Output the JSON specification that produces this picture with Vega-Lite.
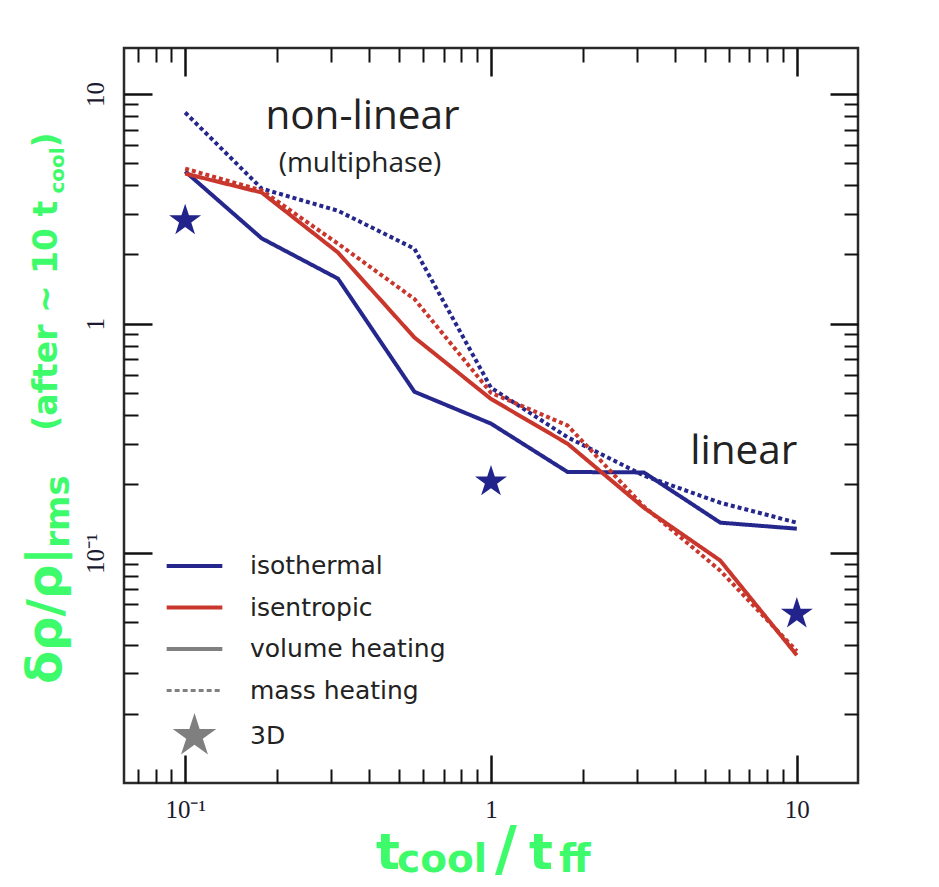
{
  "$schema": "https://vega.github.io/schema/vega-lite/v6.json",
  "width": 734,
  "height": 735,
  "autosize": {"type": "none"},
  "padding": {"left": 124, "top": 48, "right": 81, "bottom": 104},
  "background": "white",
  "data": {"values": [{"note": "title anchor"}]},
  "config": {
    "view": {"stroke": "#2a2a2a", "strokeWidth": 2.5},
    "axis": {"grid": false, "domain": false, "tickColor": "#111"}
  },
  "resolve": {"axis": {"x": "independent", "y": "independent"}},
  "layer": [
    {
      "data": {"values": [
        {"x": 0.1, "y": 4.6, "model": "isothermal", "heating": "volume"},
        {"x": 0.178, "y": 2.35, "model": "isothermal", "heating": "volume"},
        {"x": 0.316, "y": 1.57, "model": "isothermal", "heating": "volume"},
        {"x": 0.562, "y": 0.505, "model": "isothermal", "heating": "volume"},
        {"x": 1.0, "y": 0.367, "model": "isothermal", "heating": "volume"},
        {"x": 1.78, "y": 0.226, "model": "isothermal", "heating": "volume"},
        {"x": 3.16, "y": 0.225, "model": "isothermal", "heating": "volume"},
        {"x": 5.62, "y": 0.136, "model": "isothermal", "heating": "volume"},
        {"x": 10, "y": 0.128, "model": "isothermal", "heating": "volume"},
        {"x": 0.1, "y": 8.3, "model": "isothermal", "heating": "mass"},
        {"x": 0.178, "y": 3.87, "model": "isothermal", "heating": "mass"},
        {"x": 0.316, "y": 3.1, "model": "isothermal", "heating": "mass"},
        {"x": 0.562, "y": 2.12, "model": "isothermal", "heating": "mass"},
        {"x": 1.0, "y": 0.526, "model": "isothermal", "heating": "mass"},
        {"x": 1.78, "y": 0.32, "model": "isothermal", "heating": "mass"},
        {"x": 3.16, "y": 0.218, "model": "isothermal", "heating": "mass"},
        {"x": 5.62, "y": 0.166, "model": "isothermal", "heating": "mass"},
        {"x": 10, "y": 0.136, "model": "isothermal", "heating": "mass"},
        {"x": 0.1, "y": 4.5, "model": "isentropic", "heating": "volume"},
        {"x": 0.178, "y": 3.72, "model": "isentropic", "heating": "volume"},
        {"x": 0.316, "y": 2.04, "model": "isentropic", "heating": "volume"},
        {"x": 0.562, "y": 0.87, "model": "isentropic", "heating": "volume"},
        {"x": 1.0, "y": 0.47, "model": "isentropic", "heating": "volume"},
        {"x": 1.78, "y": 0.3, "model": "isentropic", "heating": "volume"},
        {"x": 3.16, "y": 0.158, "model": "isentropic", "heating": "volume"},
        {"x": 5.62, "y": 0.093, "model": "isentropic", "heating": "volume"},
        {"x": 10, "y": 0.036, "model": "isentropic", "heating": "volume"},
        {"x": 0.1, "y": 4.73, "model": "isentropic", "heating": "mass"},
        {"x": 0.178, "y": 3.8, "model": "isentropic", "heating": "mass"},
        {"x": 0.316, "y": 2.23, "model": "isentropic", "heating": "mass"},
        {"x": 0.562, "y": 1.28, "model": "isentropic", "heating": "mass"},
        {"x": 1.0, "y": 0.5, "model": "isentropic", "heating": "mass"},
        {"x": 1.78, "y": 0.36, "model": "isentropic", "heating": "mass"},
        {"x": 3.16, "y": 0.16, "model": "isentropic", "heating": "mass"},
        {"x": 5.62, "y": 0.084, "model": "isentropic", "heating": "mass"},
        {"x": 10, "y": 0.0375, "model": "isentropic", "heating": "mass"}
      ]},
      "mark": {"type": "line", "strokeWidth": 4},
      "encoding": {
        "x": {"field": "x", "type": "quantitative", "title": null,
          "scale": {"type": "log", "domain": [0.0631, 15.85], "nice": false},
          "axis": {"orient": "bottom", "values": [0.1, 1, 10], "tickSize": -28, "tickWidth": 2.5,
            "labelPadding": 42, "labelBaseline": "top", "labelAlign": "center",
            "labelExpr": "datum.value < 0.5 ? '10⁻¹' : datum.value < 5 ? '1' : '10'",
            "labelFont": "Liberation Serif", "labelFontSize": 25, "labelColor": "#1a1a30",
            "labelFlush": false, "labelOverlap": false}},
        "y": {"field": "y", "type": "quantitative", "title": null,
          "scale": {"type": "log", "domain": [0.01, 15.85], "nice": false},
          "axis": {"orient": "left", "values": [0.1, 1, 10], "tickSize": -28, "tickWidth": 2.5,
            "labelPadding": 49, "labelAngle": 270, "labelAlign": "center", "labelBaseline": "alphabetic",
            "labelExpr": "datum.value < 0.5 ? '10⁻¹' : datum.value < 5 ? '1' : '10'",
            "labelFont": "Liberation Serif", "labelFontSize": 25, "labelColor": "#1a1a30",
            "labelFlush": false, "labelOverlap": false}},
        "color": {"field": "model", "type": "nominal",
          "scale": {"domain": ["isothermal", "isentropic", "volume heating", "mass heating", "3D"],
                    "range": ["#25278c", "#c9372c", "#808080", "#808080", "#808080"]},
          "legend": {"title": null, "orient": "none", "legendX": 58, "legendY": 505.5,
            "symbolType": "stroke", "symbolSize": 1700, "symbolStrokeWidth": 4,
            "labelFont": "DejaVu Sans", "labelFontSize": 25, "labelColor": "#222",
            "labelOffset": 43, "labelLimit": 400, "rowPadding": 2.5, "padding": 0,
            "encode": {"symbols": {"update": {
              "shape": {"signal": "datum.value === '3D' ? 'M0,-1L0.225,-0.309L0.951,-0.309L0.363,0.118L0.588,0.809L0,0.382L-0.588,0.809L-0.363,0.118L-0.951,-0.309L-0.225,-0.309Z' : (datum.value === 'mass heating' ? 'M-1,0L1,0M0,-0.6376L0,-0.6376M0,0.6376L0,0.6376' : 'M-1,0L1,0M0,-0.6016L0,-0.6016M0,0.6016L0,0.6016')"},
              "size": {"signal": "datum.value === '3D' ? 2100 : 3100"},
              "fill": {"signal": "datum.value === '3D' ? '#7f7f7f' : 'transparent'"},
              "strokeCap": {"value": "butt"},
              "strokeJoin": {"value": "round"},
              "strokeWidth": {"signal": "datum.value === '3D' ? 0 : (datum.value === 'mass heating' ? 3 : 4)"},
              "strokeDash": {"signal": "datum.value === 'mass heating' ? [5, 3] : [1, 0]"}
            }}}}},
        "strokeDash": {"field": "heating", "type": "nominal",
          "scale": {"domain": ["volume", "mass"], "range": [[1, 0], [4, 3]]}, "legend": null}
      }
    },
    {
      "data": {"values": [
        {"x": 0.1, "y": 2.81},
        {"x": 1, "y": 0.205},
        {"x": 10, "y": 0.0545}
      ]},
      "mark": {"type": "point", "shape": "M0,-1L0.225,-0.309L0.951,-0.309L0.363,0.118L0.588,0.809L0,0.382L-0.588,0.809L-0.363,0.118L-0.951,-0.309L-0.225,-0.309Z",
        "size": 1130, "filled": true, "color": "#22248c", "opacity": 1, "strokeWidth": 0},
      "encoding": {
        "x": {"field": "x", "type": "quantitative", "title": null,
          "scale": {"type": "log", "domain": [0.0631, 15.85], "nice": false},
          "axis": {"orient": "top", "values": [0.1, 1, 10], "tickSize": -28, "tickWidth": 2.5, "labels": false}},
        "y": {"field": "y", "type": "quantitative", "title": null,
          "scale": {"type": "log", "domain": [0.01, 15.85], "nice": false},
          "axis": {"orient": "right", "values": [0.1, 1, 10], "tickSize": -28, "tickWidth": 2.5, "labels": false}}
      }
    },
    {
      "data": {"values": [
        {"label": "non-linear", "x": 0.38, "y": 7.07},
        {"label": "linear", "x": 6.71, "y": 0.2455}
      ]},
      "mark": {"type": "text", "font": "Open Sans", "fontSize": 40.5, "color": "#222", "align": "center", "baseline": "alphabetic"},
      "encoding": {
        "text": {"field": "label"},
        "x": {"field": "x", "type": "quantitative", "title": null,
          "scale": {"type": "log", "domain": [0.0631, 15.85], "nice": false},
          "axis": {"orient": "bottom", "values": [0.07, 0.08, 0.09, 0.2, 0.3, 0.4, 0.5, 0.6, 0.7, 0.8, 0.9, 2, 3, 4, 5, 6, 7, 8, 9], "tickSize": -14, "tickWidth": 2, "labels": false}},
        "y": {"field": "y", "type": "quantitative", "title": null,
          "scale": {"type": "log", "domain": [0.01, 15.85], "nice": false},
          "axis": {"orient": "left", "values": [0.02, 0.03, 0.04, 0.05, 0.06, 0.07, 0.08, 0.09, 0.2, 0.3, 0.4, 0.5, 0.6, 0.7, 0.8, 0.9, 2, 3, 4, 5, 6, 7, 8, 9], "tickSize": -14, "tickWidth": 2, "labels": false}}
      }
    },
    {
      "data": {"values": [
        {"label": "(multiphase)", "x": 0.373, "y": 4.55}
      ]},
      "mark": {"type": "text", "font": "Open Sans", "fontSize": 28, "color": "#222", "align": "center", "baseline": "alphabetic"},
      "encoding": {
        "text": {"field": "label"},
        "x": {"field": "x", "type": "quantitative", "title": null,
          "scale": {"type": "log", "domain": [0.0631, 15.85], "nice": false},
          "axis": {"orient": "top", "values": [0.07, 0.08, 0.09, 0.2, 0.3, 0.4, 0.5, 0.6, 0.7, 0.8, 0.9, 2, 3, 4, 5, 6, 7, 8, 9], "tickSize": -14, "tickWidth": 2, "labels": false}},
        "y": {"field": "y", "type": "quantitative", "title": null,
          "scale": {"type": "log", "domain": [0.01, 15.85], "nice": false},
          "axis": {"orient": "right", "values": [0.02, 0.03, 0.04, 0.05, 0.06, 0.07, 0.08, 0.09, 0.2, 0.3, 0.4, 0.5, 0.6, 0.7, 0.8, 0.9, 2, 3, 4, 5, 6, 7, 8, 9], "tickSize": -14, "tickWidth": 2, "labels": false}}
      }
    },
    {
      "mark": {"type": "text", "text": "t", "font": "DejaVu Sans", "fontWeight": "bold", "fontSize": 50, "color": "#3dfb6b", "align": "left", "baseline": "alphabetic"},
      "encoding": {
        "x": {"datum": 0.4208, "type": "quantitative", "axis": null, "scale": {"type": "log", "domain": [0.0631, 15.85], "nice": false}},
        "y": {"datum": 0.00422, "type": "quantitative", "axis": null, "scale": {"type": "log", "domain": [0.01, 15.85], "nice": false}}
      }
    },
    {
      "mark": {"type": "text", "text": "cool", "font": "DejaVu Sans", "fontWeight": "bold", "fontSize": 39, "color": "#3dfb6b", "align": "left", "baseline": "alphabetic"},
      "encoding": {
        "x": {"datum": 0.493, "type": "quantitative", "axis": null, "scale": {"type": "log", "domain": [0.0631, 15.85], "nice": false}},
        "y": {"datum": 0.004094, "type": "quantitative", "axis": null, "scale": {"type": "log", "domain": [0.01, 15.85], "nice": false}}
      }
    },
    {
      "mark": {"type": "text", "text": "/", "font": "DejaVu Sans", "fontWeight": "bold", "fontSize": 60, "color": "#3dfb6b", "align": "center", "baseline": "alphabetic"},
      "encoding": {
        "x": {"datum": 1.12, "type": "quantitative", "axis": null, "scale": {"type": "log", "domain": [0.0631, 15.85], "nice": false}},
        "y": {"datum": 0.00422, "type": "quantitative", "axis": null, "scale": {"type": "log", "domain": [0.01, 15.85], "nice": false}}
      }
    },
    {
      "mark": {"type": "text", "text": "t", "font": "DejaVu Sans", "fontWeight": "bold", "fontSize": 50, "color": "#3dfb6b", "align": "left", "baseline": "alphabetic"},
      "encoding": {
        "x": {"datum": 1.331, "type": "quantitative", "axis": null, "scale": {"type": "log", "domain": [0.0631, 15.85], "nice": false}},
        "y": {"datum": 0.00422, "type": "quantitative", "axis": null, "scale": {"type": "log", "domain": [0.01, 15.85], "nice": false}}
      }
    },
    {
      "mark": {"type": "text", "text": "ff", "font": "DejaVu Sans", "fontWeight": "bold", "fontSize": 39, "color": "#3dfb6b", "align": "left", "baseline": "alphabetic"},
      "encoding": {
        "x": {"datum": 1.668, "type": "quantitative", "axis": null, "scale": {"type": "log", "domain": [0.0631, 15.85], "nice": false}},
        "y": {"datum": 0.004094, "type": "quantitative", "axis": null, "scale": {"type": "log", "domain": [0.01, 15.85], "nice": false}}
      }
    },
    {
      "mark": {"type": "text", "text": "δρ/ρ|", "font": "DejaVu Sans", "fontWeight": "bold", "fontSize": 48, "color": "#3dfb6b", "align": "left", "baseline": "alphabetic", "angle": 270},
      "encoding": {
        "x": {"datum": 0.03934, "type": "quantitative", "axis": null, "scale": {"type": "log", "domain": [0.0631, 15.85], "nice": false}},
        "y": {"datum": 0.027, "type": "quantitative", "axis": null, "scale": {"type": "log", "domain": [0.01, 15.85], "nice": false}}
      }
    },
    {
      "mark": {"type": "text", "text": "rms", "font": "DejaVu Sans", "fontWeight": "bold", "fontSize": 34, "color": "#3dfb6b", "align": "left", "baseline": "alphabetic", "angle": 270},
      "encoding": {
        "x": {"datum": 0.04178, "type": "quantitative", "axis": null, "scale": {"type": "log", "domain": [0.0631, 15.85], "nice": false}},
        "y": {"datum": 0.1057, "type": "quantitative", "axis": null, "scale": {"type": "log", "domain": [0.01, 15.85], "nice": false}}
      }
    },
    {
      "mark": {"type": "text", "text": "(after ~ 10 t", "font": "DejaVu Sans", "fontWeight": "bold", "fontSize": 33, "color": "#3dfb6b", "align": "left", "baseline": "alphabetic", "angle": 270},
      "encoding": {
        "x": {"datum": 0.03817, "type": "quantitative", "axis": null, "scale": {"type": "log", "domain": [0.0631, 15.85], "nice": false}},
        "y": {"datum": 0.3418, "type": "quantitative", "axis": null, "scale": {"type": "log", "domain": [0.01, 15.85], "nice": false}}
      }
    },
    {
      "mark": {"type": "text", "text": "cool", "font": "DejaVu Sans", "fontWeight": "bold", "fontSize": 20, "color": "#3dfb6b", "align": "left", "baseline": "alphabetic", "angle": 270},
      "encoding": {
        "x": {"datum": 0.04023, "type": "quantitative", "axis": null, "scale": {"type": "log", "domain": [0.0631, 15.85], "nice": false}},
        "y": {"datum": 3.685, "type": "quantitative", "axis": null, "scale": {"type": "log", "domain": [0.01, 15.85], "nice": false}}
      }
    },
    {
      "mark": {"type": "text", "text": ")", "font": "DejaVu Sans", "fontWeight": "bold", "fontSize": 33, "color": "#3dfb6b", "align": "left", "baseline": "alphabetic", "angle": 270},
      "encoding": {
        "x": {"datum": 0.03817, "type": "quantitative", "axis": null, "scale": {"type": "log", "domain": [0.0631, 15.85], "nice": false}},
        "y": {"datum": 5.85, "type": "quantitative", "axis": null, "scale": {"type": "log", "domain": [0.01, 15.85], "nice": false}}
      }
    }
  ]
}
